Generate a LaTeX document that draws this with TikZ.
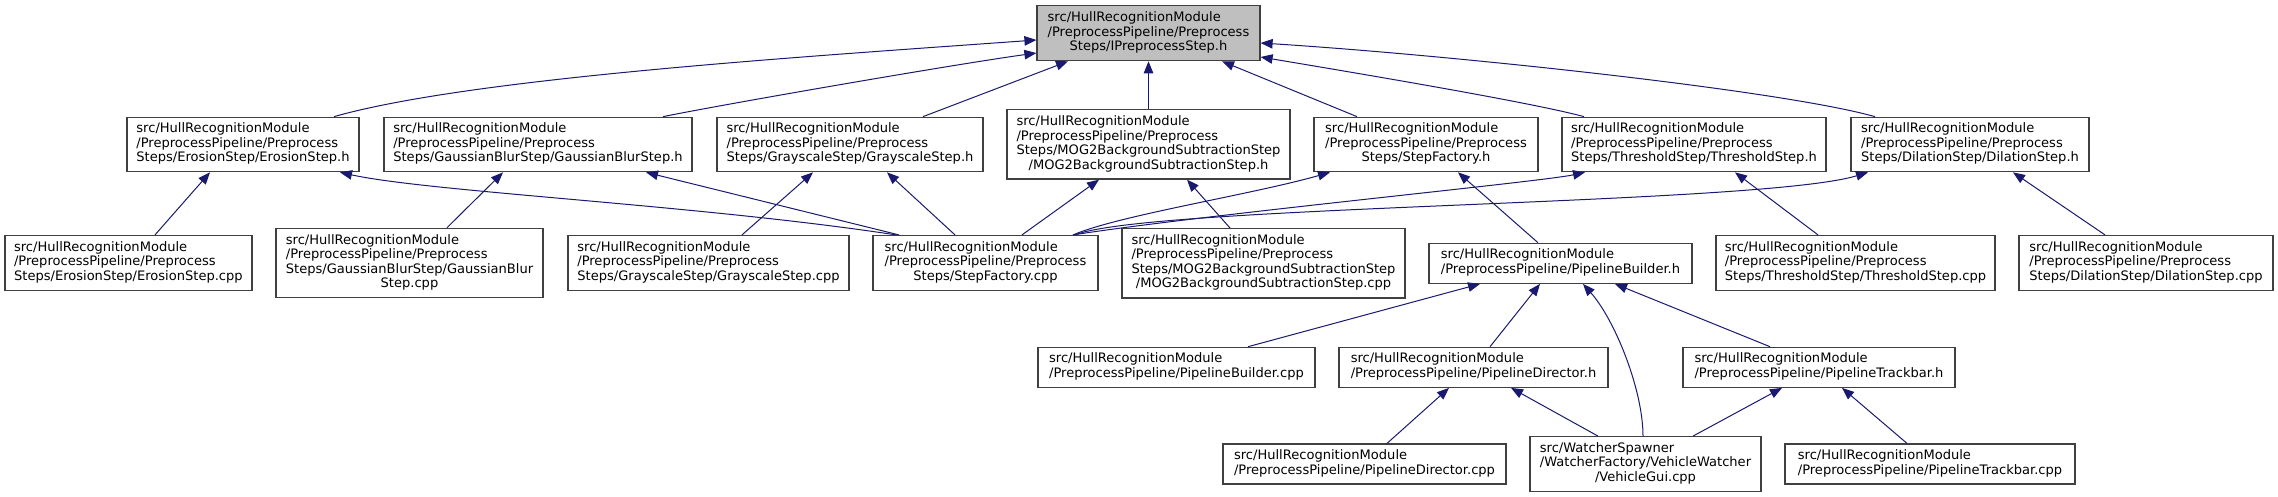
\documentclass[tikz,border=0pt]{standalone}
\usepackage{fontspec}
\setmainfont{DejaVu Sans}
\usetikzlibrary{arrows.meta}
\definecolor{edgeblue}{HTML}{191970}
\definecolor{boxline}{HTML}{404040}
\definecolor{topfill}{HTML}{BFBFBF}
\newcommand{\lbl}[2]{\begin{tabular}{@{}l@{}}#1\multicolumn{1}{@{}c@{}}{#2}\end{tabular}}
\tikzset{
 box/.style={draw=boxline, line width=1.2pt, rectangle, inner sep=0pt, fill=white,
   font=\fontsize{13.05pt}{14.5pt}\selectfont},
 edge/.style={draw=edgeblue, line width=1pt, {Triangle[length=12pt,width=9.5pt]}-},
}
\begin{document}
\begin{tikzpicture}[x=1pt,y=-1pt]
\useasboundingbox (0,0) rectangle (2278,497);
% row 0
\node[box, fill=topfill, minimum width=223pt, minimum height=55pt] (top) at (1148.5,33.2)
  {\lbl{src/HullRecognitionModule\\/PreprocessPipeline/Preprocess\\}{Steps/IPreprocessStep.h}};
% row 1
\node[box, minimum width=232pt, minimum height=54.5pt] (eroh) at (243,144.5)
  {\lbl{src/HullRecognitionModule\\/PreprocessPipeline/Preprocess\\}{Steps/ErosionStep/ErosionStep.h}};
\node[box, minimum width=308pt, minimum height=54.5pt] (gauh) at (538,144.5)
  {\lbl{src/HullRecognitionModule\\/PreprocessPipeline/Preprocess\\}{Steps/GaussianBlurStep/GaussianBlurStep.h}};
\node[box, minimum width=266pt, minimum height=54.5pt] (grah) at (850,144.5)
  {\lbl{src/HullRecognitionModule\\/PreprocessPipeline/Preprocess\\}{Steps/GrayscaleStep/GrayscaleStep.h}};
\node[box, minimum width=283pt, minimum height=69.3pt] (mogh) at (1148.5,144.4)
  {\lbl{src/HullRecognitionModule\\/PreprocessPipeline/Preprocess\\Steps/MOG2BackgroundSubtractionStep\\}{/MOG2BackgroundSubtractionStep.h}};
\node[box, minimum width=224pt, minimum height=54.5pt] (sfh) at (1426,144.5)
  {\lbl{src/HullRecognitionModule\\/PreprocessPipeline/Preprocess\\}{Steps/StepFactory.h}};
\node[box, minimum width=264pt, minimum height=54.5pt] (thrh) at (1694,144.5)
  {\lbl{src/HullRecognitionModule\\/PreprocessPipeline/Preprocess\\}{Steps/ThresholdStep/ThresholdStep.h}};
\node[box, minimum width=238pt, minimum height=54.5pt] (dilh) at (1970,144.5)
  {\lbl{src/HullRecognitionModule\\/PreprocessPipeline/Preprocess\\}{Steps/DilationStep/DilationStep.h}};
% row 2
\node[box, minimum width=247pt, minimum height=55pt] (eroc) at (128.4,263)
  {\lbl{src/HullRecognitionModule\\/PreprocessPipeline/Preprocess\\}{Steps/ErosionStep/ErosionStep.cpp}};
\node[box, minimum width=267pt, minimum height=69.4pt] (gauc) at (409.5,263)
  {\lbl{src/HullRecognitionModule\\/PreprocessPipeline/Preprocess\\Steps/GaussianBlurStep/GaussianBlur\\}{Step.cpp}};
\node[box, minimum width=281pt, minimum height=55pt] (grac) at (708.5,263)
  {\lbl{src/HullRecognitionModule\\/PreprocessPipeline/Preprocess\\}{Steps/GrayscaleStep/GrayscaleStep.cpp}};
\node[box, minimum width=225pt, minimum height=55pt] (sfc) at (985.5,263)
  {\lbl{src/HullRecognitionModule\\/PreprocessPipeline/Preprocess\\}{Steps/StepFactory.cpp}};
\node[box, minimum width=283pt, minimum height=69.4pt] (mogc) at (1263.5,263.3)
  {\lbl{src/HullRecognitionModule\\/PreprocessPipeline/Preprocess\\Steps/MOG2BackgroundSubtractionStep\\}{/MOG2BackgroundSubtractionStep.cpp}};
\node[box, minimum width=263pt, minimum height=40pt] (pbh) at (1560.5,263.3)
  {\lbl{src/HullRecognitionModule\\}{/PreprocessPipeline/PipelineBuilder.h}};
\node[box, minimum width=279pt, minimum height=55pt] (thrc) at (1855.5,263)
  {\lbl{src/HullRecognitionModule\\/PreprocessPipeline/Preprocess\\}{Steps/ThresholdStep/ThresholdStep.cpp}};
\node[box, minimum width=254pt, minimum height=55pt] (dilc) at (2146,263)
  {\lbl{src/HullRecognitionModule\\/PreprocessPipeline/Preprocess\\}{Steps/DilationStep/DilationStep.cpp}};
% row 3
\node[box, minimum width=277pt, minimum height=40pt] (pbc) at (1176.5,367.3)
  {\lbl{src/HullRecognitionModule\\}{/PreprocessPipeline/PipelineBuilder.cpp}};
\node[box, minimum width=269pt, minimum height=40pt] (pdh) at (1473.5,367.3)
  {\lbl{src/HullRecognitionModule\\}{/PreprocessPipeline/PipelineDirector.h}};
\node[box, minimum width=272pt, minimum height=40pt] (pth) at (1819,367.3)
  {\lbl{src/HullRecognitionModule\\}{/PreprocessPipeline/PipelineTrackbar.h}};
% row 4
\node[box, minimum width=283pt, minimum height=40pt] (pdc) at (1364.5,464)
  {\lbl{src/HullRecognitionModule\\}{/PreprocessPipeline/PipelineDirector.cpp}};
\node[box, minimum width=231pt, minimum height=54.6pt] (vgc) at (1645.5,464)
  {\lbl{src/WatcherSpawner\\/WatcherFactory/VehicleWatcher\\}{/VehicleGui.cpp}};
\node[box, minimum width=290pt, minimum height=40pt] (ptc) at (1930,464)
  {\lbl{src/HullRecognitionModule\\}{/PreprocessPipeline/PipelineTrackbar.cpp}};
% edges into IPreprocessStep.h
\draw[edge] (top.west |- 0,40) .. controls (800,57) and (470,78) .. (334,0 |- eroh.north);
\draw[edge] (top.west |- 0,53) .. controls (950,65) and (720,105) .. (663,0 |- gauh.north);
\draw[edge] (1068,0 |- top.south) -- (923,0 |- grah.north);
\draw[edge] (top.south) -- (mogh.north);
\draw[edge] (1222,0 |- top.south) -- (1357,0 |- sfh.north);
\draw[edge] (top.east |- 0,57) .. controls (1350,72) and (1530,102) .. (1584,0 |- thrh.north);
\draw[edge] (top.east |- 0,43) .. controls (1450,55) and (1780,90) .. (1875,0 |- dilh.north);
% row 1 <- row 2
\draw[edge] (210,0 |- eroh.south) -- (155,0 |- eroc.north);
\draw[edge] (340,0 |- eroh.south) .. controls (430,192) and (700,205) .. (896,0 |- sfc.north);
\draw[edge] (503,0 |- gauh.south) -- (447,0 |- gauc.north);
\draw[edge] (646,0 |- gauh.south) -- (899,0 |- sfc.north);
\draw[edge] (813,0 |- grah.south) -- (742,0 |- grac.north);
\draw[edge] (887,0 |- grah.south) -- (955,0 |- sfc.north);
\draw[edge] (1099,0 |- mogh.south) -- (1022,0 |- sfc.north);
\draw[edge] (1187,0 |- mogh.south) -- (1230,0 |- mogc.north);
\draw[edge] (1330,0 |- sfh.south) .. controls (1250,195) and (1120,215) .. (1073,0 |- sfc.north);
\draw[edge] (1458,0 |- sfh.south) -- (1538,0 |- pbh.north);
\draw[edge] (1585,0 |- thrh.south) .. controls (1540,182) and (1200,215) .. (1073,0 |- sfc.north);
\draw[edge] (1735,0 |- thrh.south) -- (1818,0 |- thrc.north);
\draw[edge] (1868,0 |- dilh.south) .. controls (1760,205) and (1150,205) .. (1075,0 |- sfc.north);
\draw[edge] (2013,0 |- dilh.south) -- (2105,0 |- dilc.north);
% PipelineBuilder.h
\draw[edge] (1480,0 |- pbh.south) -- (1248,0 |- pbc.north);
\draw[edge] (1540,0 |- pbh.south) -- (1490,0 |- pdh.north);
\draw[edge] (1583,0 |- pbh.south) .. controls (1615,320) and (1643,390) .. (1643,0 |- vgc.north);
\draw[edge] (1615,0 |- pbh.south) -- (1770,0 |- pth.north);
% PipelineDirector.h, PipelineTrackbar.h
\draw[edge] (1449,0 |- pdh.south) -- (1387,0 |- pdc.north);
\draw[edge] (1511,0 |- pdh.south) -- (1598,0 |- vgc.north);
\draw[edge] (1782,0 |- pth.south) -- (1693,0 |- vgc.north);
\draw[edge] (1842,0 |- pth.south) -- (1907,0 |- ptc.north);
\end{tikzpicture}
\end{document}
